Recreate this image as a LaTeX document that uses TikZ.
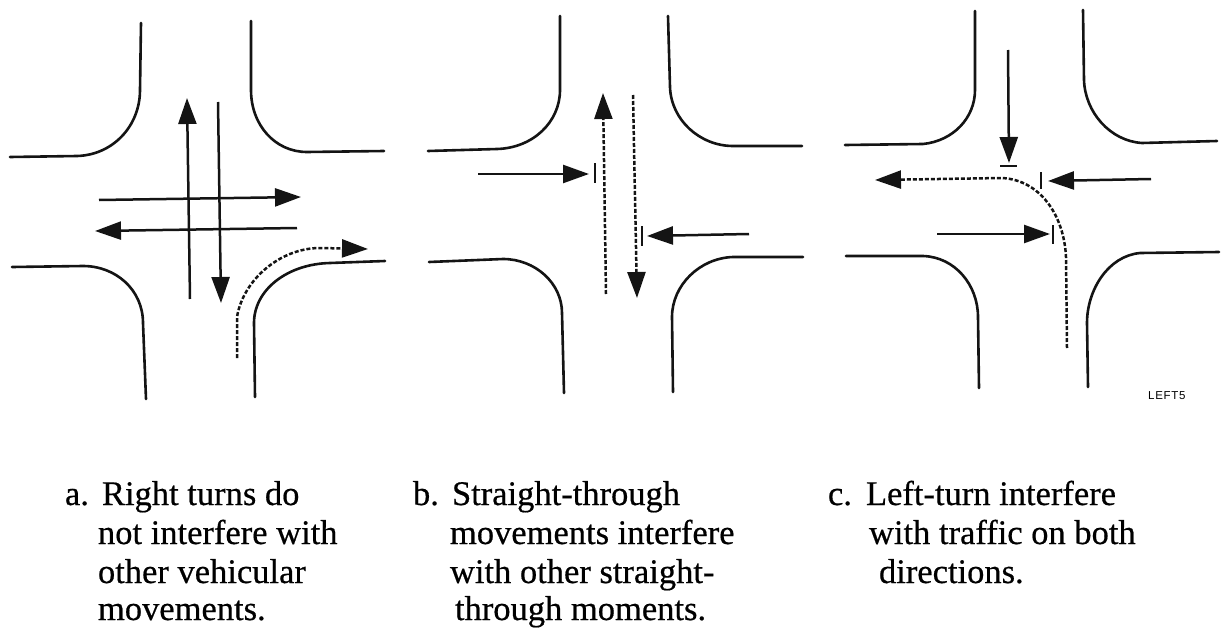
\documentclass[tikz,border=0pt]{standalone}
\usepackage{fontspec}
\setmainfont{Liberation Serif}
\setsansfont{Liberation Sans}
\usetikzlibrary{arrows.meta}
\tikzset{
  x=1pt,y=-1pt,
  curb/.style={line width=2.6pt,line cap=round,black!92},
  mv/.style={line width=2.5pt,black!92,-{Triangle[length=26pt,width=18pt]}},
  dash line/.style={line width=2.5pt,black!92,dash pattern=on 4pt off 2pt,-{Triangle[length=26pt,width=18pt]}},
  stopbar/.style={line width=2.2pt,black!92},
  cap text/.style={anchor=base west,font=\fontsize{34.5}{40}\selectfont\addfontfeature{FakeBold=0.5},inner sep=0pt,outer sep=0pt}
}
\begin{document}
\begin{tikzpicture}
\useasboundingbox (0,0) rectangle (1221,629);
% panel a
\draw[curb] (10,157) -- (77,156) .. controls (113,155) and (140,126) .. (140,90) -- (141,23);
\draw[curb] (251,21) -- (251,90) .. controls (251,125) and (275,152) .. (307,152) -- (384,151);
\draw[curb] (12,267) -- (83,266) .. controls (116,266) and (143,290) .. (143,323) -- (146,399);
\draw[curb] (385,261) -- (330,263) .. controls (287,264) and (254,290) .. (254,323) -- (255,397);
\draw[mv] (190,299) -- (187,98);
\draw[mv] (218,102) -- (221,303);
\draw[mv] (99,200) -- (301,197);
\draw[mv] (297,228) -- (95,231);
\draw[dash line] (237,358) -- (237,317) .. controls (243,280) and (280,248) .. (320,248) -- (368,249);
% panel b
\draw[curb] (428,151) -- (497,149) .. controls (533,148) and (560,122) .. (560,90) -- (560,16);
\draw[curb] (668,16) -- (670,87) .. controls (671,120) and (700,146) .. (733,146) -- (802,146);
\draw[curb] (429,262) -- (503,259) .. controls (535,259) and (562,283) .. (562,313) -- (564,393);
\draw[curb] (803,257) -- (733,257) .. controls (700,258) and (672,285) .. (672,317) -- (673,392);
\draw[dash line] (606,294) -- (603,93);
\draw[dash line] (633,95) -- (637,298);
\draw[mv] (478,174) -- (589,174);
\draw[stopbar] (595,163) -- (595,183);
\draw[mv] (749,234) -- (647,236);
\draw[stopbar] (642,226) -- (642,246);
% panel c
\draw[curb] (845,145) -- (923,144) .. controls (953,141) and (975,118) .. (975,90) -- (975,11);
\draw[curb] (1083,10) -- (1084,80) .. controls (1085,112) and (1110,141) .. (1142,143) -- (1217,141);
\draw[curb] (846,256) -- (923,256) .. controls (955,257) and (978,285) .. (978,317) -- (979,388);
\draw[curb] (1219,252) -- (1140,253) .. controls (1108,256) and (1087,290) .. (1087,323) -- (1088,387);
\draw[mv] (1008,50) -- (1009,163);
\draw[stopbar] (1000,166) -- (1017,166);
\draw[dash line] (1067,348) -- (1066,257) .. controls (1064,215) and (1040,180) .. (1002,178) -- (875,180);
\draw[mv] (1151,179) -- (1048,181);
\draw[stopbar] (1041,172) -- (1041,189);
\draw[mv] (937,234) -- (1050,234);
\draw[stopbar] (1053,225) -- (1053,244);
\node[anchor=base west,inner sep=0pt,font=\sffamily\fontsize{11.5}{12}\selectfont\addfontfeature{LetterSpace=6}] (tag) at (1148,399) {LEFT5};
% captions
\node[cap text] (a0) at (65,505) {a.};
\node[cap text] (a1) at (102,505) {Right turns do};
\node[cap text] (a2) at (98,544) {not interfere with};
\node[cap text] (a3) at (98,583) {other vehicular};
\node[cap text] (a4) at (98,620) {movements.};
\node[cap text] (b0) at (413,505) {b.};
\node[cap text] (b1) at (452,505) {Straight-through};
\node[cap text] (b2) at (450,544) {movements interfere};
\node[cap text] (b3) at (450,583) {with other straight-};
\node[cap text] (b4) at (455,620) {through moments.};
\node[cap text] (c0) at (828,505) {c.};
\node[cap text] (c1) at (866,505) {Left-turn interfere};
\node[cap text] (c2) at (869,544) {with traffic on both};
\node[cap text] (c3) at (879,583) {directions.};
\end{tikzpicture}
\end{document}
